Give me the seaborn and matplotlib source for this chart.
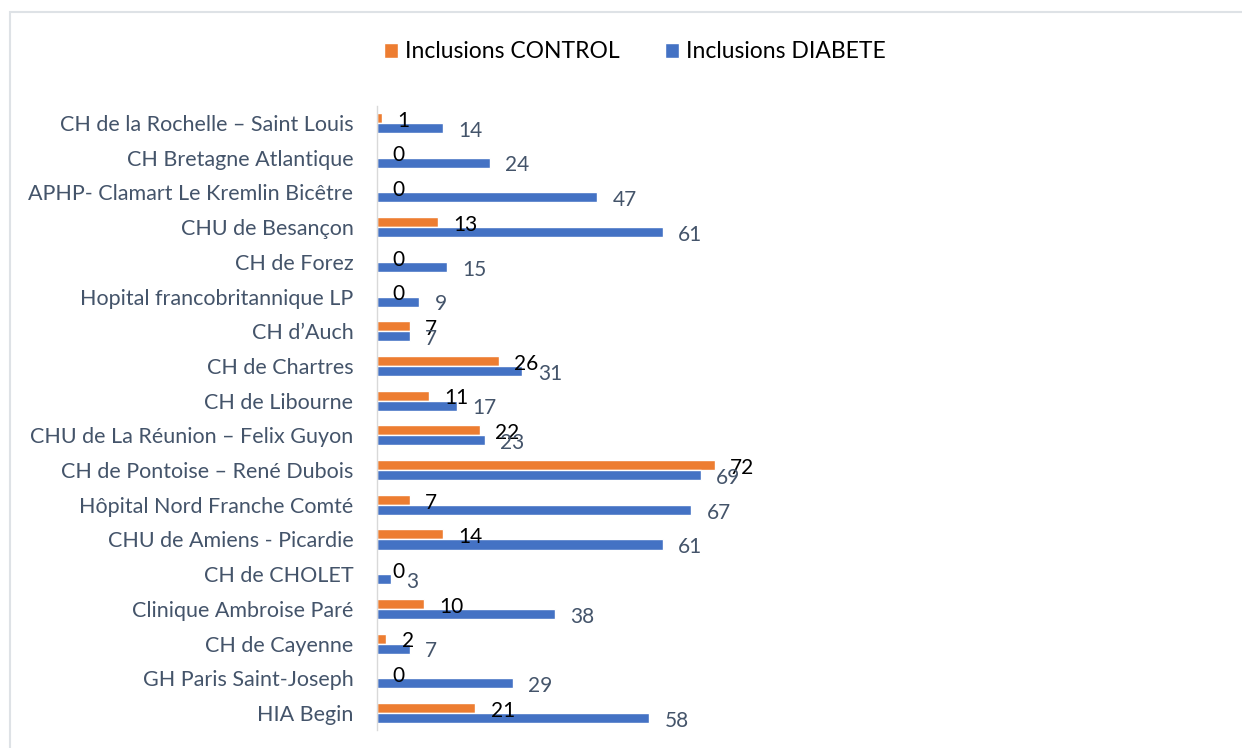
import pandas as pd
import matplotlib.pyplot as plt
import matplotlib.patches as mpatches
import seaborn as sns

# donnees (haut -> bas)
hopitaux = [
    "CH de la Rochelle – Saint Louis",
    "CH Bretagne Atlantique",
    "APHP- Clamart Le Kremlin Bicêtre",
    "CHU de Besançon",
    "CH de Forez",
    "Hopital francobritannique LP",
    "CH d’Auch",
    "CH de Chartres",
    "CH de Libourne",
    "CHU de La Réunion – Felix Guyon",
    "CH de Pontoise – René Dubois",
    "Hôpital Nord Franche Comté",
    "CHU de Amiens - Picardie",
    "CH de CHOLET",
    "Clinique Ambroise Paré",
    "CH de Cayenne",
    "GH Paris Saint-Joseph",
    "HIA Begin",
]
inclusions_control = [1, 0, 0, 13, 0, 0, 7, 26, 11, 22, 72, 7, 14, 0, 10, 2, 0, 21]
inclusions_diabete = [14, 24, 47, 61, 15, 9, 7, 31, 17, 23, 69, 67, 61, 3, 38, 7, 29, 58]
series = ["Inclusions CONTROL", "Inclusions DIABETE"]

df = pd.DataFrame({
    "hopital": hopitaux * 2,
    "serie": [series[0]] * len(hopitaux) + [series[1]] * len(hopitaux),
    "valeur": inclusions_control + inclusions_diabete,
})

sns.set_theme(style="white")
plt.rcParams["font.family"] = ["Lato", "DejaVu Sans"]

W, H = 1242, 748
fig = plt.figure(figsize=(W / 100, H / 100), dpi=100)
ax = fig.add_axes([377 / W, 1 - 730.4 / H, 800 / W, (730.4 - 105.6) / H])

couleurs = {series[0]: "#ED7D31", series[1]: "#4472C4"}
sns.barplot(data=df, y="hopital", x="valeur", hue="serie", hue_order=series,
            order=hopitaux, palette=couleurs, width=0.58, orient="h",
            saturation=1, ax=ax, legend=True)

ax.set_xlim(0, 800 / 4.69)
ax.set_ylim(len(hopitaux) - 0.5, -0.5)
ax.set_xlabel("")
ax.set_ylabel("")
ax.set_xticks([])
for s in ["top", "right", "bottom"]:
    ax.spines[s].set_visible(False)
ax.spines["left"].set_color("#D9D9D9")
ax.spines["left"].set_linewidth(1)
ax.tick_params(axis="y", length=0, pad=17, labelsize=15.5, labelcolor="#44546A")

# etiquettes de valeurs
couleurs_txt = ["black", "#44546A"]
for cont, coul in zip(ax.containers, couleurs_txt):
    for p in cont.patches:
        v = p.get_width()
        ax.annotate(f"{int(round(v))}", (v, p.get_y() + p.get_height() / 2),
                    xytext=(11, -2), textcoords="offset points",
                    ha="left", va="center", fontsize=15, color=coul)

# legende
leg = ax.legend(loc="center", bbox_to_anchor=(635 / W, 1 - 52 / H),
                bbox_transform=fig.transFigure, ncol=2, frameon=False,
                fontsize=16.5, handlelength=0.6, handleheight=0.6,
                handletextpad=0.3, columnspacing=2.0)
for t in leg.get_texts():
    t.set_color("black")

# cadre de la zone du graphique
cadre = mpatches.Rectangle((10 / W, -0.1), 1.2, 1.1 - 12 / H, transform=fig.transFigure,
                           fill=False, edgecolor="#DEE2E6", linewidth=1.5, clip_on=False)
fig.patches.append(cadre)

fig.savefig("out.png", dpi=100)
